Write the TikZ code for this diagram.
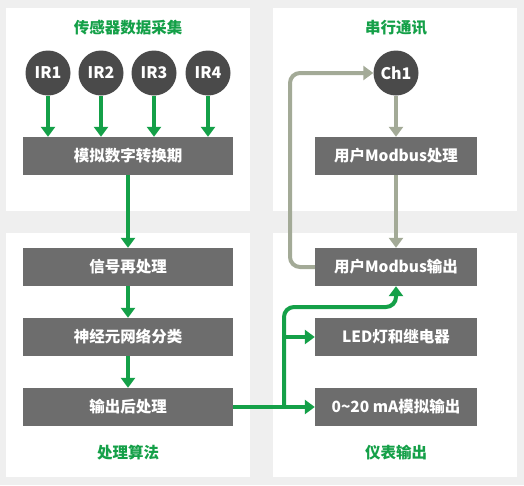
\documentclass[tikz,border=0pt]{standalone}
\usepackage{fontspec}
\setmainfont{Noto Sans CJK SC}
\usepackage{tikz}
\usetikzlibrary{arrows.meta}

\definecolor{pagegray}{HTML}{EFEFEF}
\definecolor{boxgray}{HTML}{6D6D6D}
\definecolor{dotgray}{HTML}{4A4A4A}
\definecolor{flowgreen}{HTML}{14A048}
\definecolor{sage}{HTML}{A3AA97}

\tikzset{
  panel/.style={fill=white, draw=none},
  heading/.style={text=flowgreen, font=\bfseries\fontsize{15.5}{16}\selectfont},
  procbox/.style={fill=boxgray, text=white, minimum width=210pt, minimum height=38pt,
    inner sep=0pt, font=\bfseries\fontsize{15.5}{16}\selectfont},
  outbox/.style={procbox, minimum width=162pt},
  sensor/.style={circle, fill=dotgray, text=white, minimum size=45pt, inner sep=0pt,
    font=\bfseries\fontsize{16}{16}\selectfont},
  greenflow/.style={draw=flowgreen, line width=4pt, -{Triangle[length=10pt,width=14pt]}},
  modflow/.style={draw=sage, line width=4pt, -{Triangle[length=10pt,width=14pt]}},
}

\begin{document}
\begin{tikzpicture}[x=1pt, y=-1pt]
  % 背景和四个面板
  \fill[pagegray] (0,0) rectangle (524,485);
  \useasboundingbox (0,0) rectangle (524,485);
  \fill[panel] (6,8) rectangle (250,211);
  \fill[panel] (273,8) rectangle (517,211);
  \fill[panel] (6,233) rectangle (250,477);
  \fill[panel] (273,233) rectangle (517,477);

  % 标题
  \node[heading] (tsense) at (128,28) {传感器数据采集};
  \node[heading] (tserial) at (396,28) {串行通讯};
  \node[heading] (talgo) at (128,453) {处理算法};
  \node[heading] (tmeter) at (396,453) {仪表输出};

  % 左侧: 传感器与处理
  \node[sensor] (ir1) at (48,73) {IR1};
  \node[sensor] (ir2) at (101,73) {IR2};
  \node[sensor] (ir3) at (154,73) {IR3};
  \node[sensor] (ir4) at (208,73) {IR4};
  \node[procbox] (adc) at (128,156) {模拟数字转换期};
  \node[procbox] (sig) at (128,267) {信号再处理};
  \node[procbox] (nn) at (128,337) {神经元网络分类};
  \node[procbox] (post) at (128,407) {输出后处理};

  \foreach \s in {ir1,ir2,ir3,ir4}
    \draw[greenflow] (\s.south) -- (\s.south |- adc.north);
  \draw[greenflow] (adc) -- (sig);
  \draw[greenflow] (sig) -- (nn);
  \draw[greenflow] (nn) -- (post);

  % 右侧: 通讯与输出
  \node[sensor] (ch) at (396,73) {Ch1};
  \node[outbox] (mbproc) at (396,156) {用户Modbus处理};
  \node[outbox] (mbout) at (396,267) {用户Modbus输出};
  \node[outbox] (led) at (396,337) {LED灯和继电器};
  \node[outbox] (ana) at (396,407) {0\textasciitilde20 mA模拟输出};

  \draw[modflow] (ch) -- (mbproc);
  \draw[modflow] (mbproc) -- (mbout);
  \draw[modflow, rounded corners=10pt] (mbout.west) -- (290,267) -- (290,73) -- (ch.west);

  % 输出分支
  \coordinate (split) at (284,407);
  \draw[draw=flowgreen, line width=4pt] (post.east) -- (split);
  \draw[greenflow] (split) -- (ana.west);
  \draw[greenflow] (284,337) -- (led.west);
  \draw[greenflow, rounded corners=10pt] (split) -- (284,307) -- (396,307) -- (mbout.south);
\end{tikzpicture}
\end{document}
